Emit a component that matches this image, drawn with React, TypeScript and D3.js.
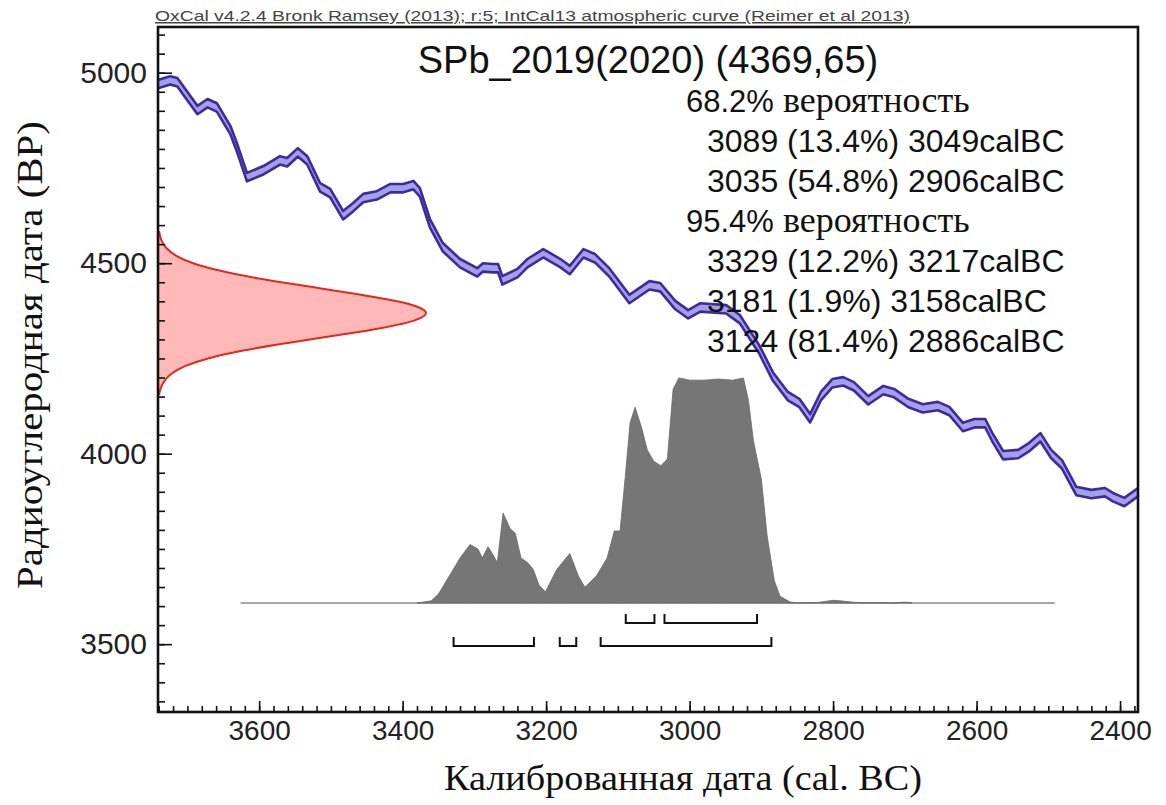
import React, { useEffect, useRef } from 'react';
import * as d3 from 'd3';

// IntCal13 curve (cal BC -> BP), centre line
const calYears = [3741, 3724, 3714, 3706, 3686, 3672, 3659, 3640, 3631, 3617, 3594, 3571, 3561, 3546, 3533, 3515, 3501, 3483, 3469, 3455, 3436, 3417, 3399, 3385, 3376, 3362, 3344, 3320, 3296, 3288, 3274, 3267, 3261, 3240, 3226, 3204, 3180, 3167, 3148, 3132, 3112, 3084, 3056, 3041, 3020, 3002, 2985, 2949, 2930, 2903, 2884, 2863, 2847, 2832, 2817, 2801, 2786, 2771, 2751, 2730, 2715, 2695, 2675, 2654, 2638, 2619, 2603, 2588, 2578, 2563, 2542, 2527, 2511, 2496, 2481, 2461, 2440, 2421, 2410, 2394, 2375];
const calBP = [4970, 4980, 4975, 4954, 4902, 4920, 4909, 4849, 4804, 4726, 4744, 4770, 4765, 4791, 4770, 4699, 4684, 4626, 4647, 4671, 4678, 4697, 4697, 4705, 4686, 4605, 4542, 4500, 4476, 4489, 4487, 4487, 4455, 4474, 4500, 4526, 4500, 4482, 4526, 4513, 4476, 4406, 4442, 4437, 4390, 4366, 4384, 4379, 4353, 4274, 4203, 4151, 4133, 4093, 4151, 4185, 4190, 4177, 4140, 4167, 4159, 4133, 4119, 4125, 4112, 4070, 4080, 4080, 4043, 3996, 3999, 4017, 4043, 3999, 3972, 3902, 3894, 3899, 3886, 3873, 3899];
const calErr = 11; // band half width, BP

// calibrated distribution (relative probability)
const histYears = [3380, 3360, 3350, 3335, 3320, 3306, 3295, 3289, 3281, 3275, 3268, 3260, 3250, 3243, 3235, 3226, 3218, 3210, 3201, 3185, 3167, 3155, 3146, 3130, 3115, 3105, 3097, 3090, 3083, 3076, 3067, 3059, 3050, 3040, 3031, 3023, 3015, 3000, 2980, 2960, 2940, 2925, 2918, 2911, 2900, 2892, 2882, 2874, 2860, 2850, 2820, 2800, 2790, 2770, 2720, 2700, 2690];
const histProb = [0, 0.01, 0.04, 0.12, 0.2, 0.26, 0.24, 0.2, 0.25, 0.22, 0.18, 0.4, 0.33, 0.31, 0.2, 0.18, 0.15, 0.08, 0.05, 0.15, 0.22, 0.12, 0.07, 0.12, 0.2, 0.32, 0.32, 0.55, 0.8, 0.87, 0.78, 0.68, 0.63, 0.61, 0.64, 0.95, 1, 0.99, 0.99, 0.995, 0.99, 1, 0.9, 0.72, 0.55, 0.3, 0.1, 0.03, 0.005, 0, 0.003, 0.012, 0.01, 0.003, 0, 0.004, 0];
const histFrom = 3626;
const histTo = 2491;

// radiocarbon measurement 4369 ± 65
const measBP = [4584, 4560, 4540, 4520, 4500, 4480, 4460, 4440, 4420, 4400, 4385, 4369, 4350, 4330, 4310, 4290, 4270, 4250, 4230, 4210, 4190, 4170, 4154];
const measDens = [0.004, 0.013, 0.031, 0.067, 0.131, 0.233, 0.375, 0.551, 0.735, 0.892, 0.97, 1, 0.958, 0.835, 0.662, 0.478, 0.313, 0.187, 0.101, 0.05, 0.023, 0.009, 0.004];

const range68 = [[3089, 3049], [3035, 2906]];
const pct68 = ['13.4', '54.8'];
const range95 = [[3329, 3217], [3181, 3158], [3124, 2886]];
const pct95 = ['12.2', '1.9', '81.4'];

const xTicks = [3600, 3400, 3200, 3000, 2800, 2600, 2400];
const yTicks = [3500, 4000, 4500, 5000];

const SANS = "'Liberation Sans', Arial, sans-serif";
const SERIF = "'Liberation Serif', 'Times New Roman', serif";

export default function App() {
  const ref = useRef<SVGSVGElement>(null);

  useEffect(() => {
    const svg = d3.select(ref.current);
    svg.selectAll('*').remove();

    const left = 158, right = 1138, top = 27, bottom = 712;
    const x = d3.scaleLinear().domain([3741, 2375]).range([left, right]);
    const y = d3.scaleLinear().domain([3322, 5120]).range([bottom, top]);
    const yProb = d3.scaleLinear().domain([0, 1]).range([y(3608), y(4199)]);
    const xDens = d3.scaleLinear().domain([0, 1]).range([left, 426]);

    svg.append('defs').append('clipPath').attr('id', 'plotclip')
      .append('rect').attr('x', left).attr('y', top)
      .attr('width', right - left).attr('height', bottom - top);

    // header
    svg.append('text')
      .attr('x', 155).attr('y', 21)
      .attr('font-family', SANS).attr('font-size', 15)
      .attr('textLength', 755).attr('lengthAdjust', 'spacingAndGlyphs')
      .attr('fill', '#444').attr('text-decoration', 'underline')
      .text('OxCal v4.2.4 Bronk Ramsey (2013); r:5; IntCal13 atmospheric curve (Reimer et al 2013)');

    const plot = svg.append('g').attr('clip-path', 'url(#plotclip)');

    // measurement distribution on the y axis
    const meas = measBP.map((bp, i) => ({ bp, d: measDens[i] }));
    plot.append('path')
      .attr('d', d3.area<any>().y((d) => y(d.bp)).x0(xDens(0)).x1((d) => xDens(d.d)).curve(d3.curveMonotoneY)(meas))
      .attr('fill', '#ffb8b8');
    plot.append('path')
      .attr('d', d3.line<any>().y((d) => y(d.bp)).x((d) => xDens(d.d)).curve(d3.curveMonotoneY)(meas))
      .attr('fill', 'none').attr('stroke', '#e2291c').attr('stroke-width', 2);

    // calibration curve
    const cal = calYears.map((yr, i) => ({ yr, bp: calBP[i] }));
    plot.append('path')
      .attr('d', d3.area<any>().x((d) => x(d.yr)).y0((d) => y(d.bp - calErr)).y1((d) => y(d.bp + calErr))(cal))
      .attr('fill', '#a59fe6');
    [calErr, -calErr].forEach((off) => {
      plot.append('path')
        .attr('d', d3.line<any>().x((d) => x(d.yr)).y((d) => y(d.bp + off))(cal))
        .attr('fill', 'none').attr('stroke', '#3b2c9e').attr('stroke-width', 2.6)
        .attr('stroke-linejoin', 'round');
    });

    // calibrated histogram
    plot.append('line')
      .attr('x1', x(histFrom)).attr('x2', x(histTo))
      .attr('y1', yProb(0)).attr('y2', yProb(0))
      .attr('stroke', '#8a8a8a').attr('stroke-width', 1.6);
    const hist = histYears.map((yr, i) => ({ yr, p: histProb[i] }));
    plot.append('path')
      .attr('d', d3.area<any>().x((d) => x(d.yr)).y0(yProb(0)).y1((d) => yProb(d.p))(hist))
      .attr('fill', '#767676').attr('stroke', '#6a6a6a').attr('stroke-width', 0.8);

    // range brackets
    const bracket = (ranges: number[][], off: number) => {
      ranges.forEach(([a, b]) => {
        const yy = yProb(0) + off;
        plot.append('path')
          .attr('d', `M${x(a)},${yy - 9}V${yy}H${x(b)}V${yy - 9}`)
          .attr('fill', 'none').attr('stroke', '#111').attr('stroke-width', 2);
      });
    };
    bracket(range68, 20);
    bracket(range95, 43);

    // axes
    const styleAxis = (g: any) => {
      g.select('.domain').remove();
      g.selectAll('line').attr('stroke', '#111').attr('stroke-width', 1.6);
      g.selectAll('text').attr('font-family', SANS).attr('fill', '#222');
    };
    svg.append('g').attr('transform', `translate(${left},0)`)
      .call(d3.axisLeft(y).tickValues(d3.range(3350, 5120, 50)).tickSize(-7).tickFormat(() => ''))
      .call(styleAxis);
    svg.append('g').attr('transform', `translate(${left},0)`)
      .call(d3.axisLeft(y).tickValues(yTicks).tickSize(-14).tickPadding(11).tickFormat(d3.format('d')))
      .call(styleAxis)
      .selectAll('text').attr('font-size', 30);
    svg.append('g').attr('transform', `translate(0,${bottom})`)
      .call(d3.axisBottom(x).tickValues(d3.range(2380, 3741, 20)).tickSize(-6).tickFormat(() => ''))
      .call(styleAxis);
    svg.append('g').attr('transform', `translate(0,${bottom})`)
      .call(d3.axisBottom(x).tickValues(xTicks).tickSize(-11).tickPadding(8).tickFormat(d3.format('d')))
      .call(styleAxis)
      .selectAll('text').attr('font-size', 28);

    // frame
    svg.append('rect')
      .attr('x', left).attr('y', top).attr('width', right - left).attr('height', bottom - top)
      .attr('fill', 'none').attr('stroke', '#111').attr('stroke-width', 2.6);

    // titles
    svg.append('text')
      .attr('x', 648).attr('y', 73).attr('text-anchor', 'middle')
      .attr('font-family', SANS).attr('font-size', 38).attr('fill', '#111')
      .text('SPb_2019(2020) (4369,65)');

    const lines: { head?: string; txt?: string }[] = [];
    lines.push({ head: '68.2%' });
    range68.forEach(([a, b], i) => lines.push({ txt: `${a} (${pct68[i]}%) ${b}calBC` }));
    lines.push({ head: '95.4%' });
    range95.forEach(([a, b], i) => lines.push({ txt: `${a} (${pct95[i]}%) ${b}calBC` }));
    lines.forEach((l, i) => {
      const by = 112 + i * 40;
      if (l.head) {
        const t = svg.append('text').attr('x', 686).attr('y', by).attr('fill', '#111');
        t.append('tspan').attr('font-family', SANS).attr('font-size', 31).text(l.head);
        t.append('tspan').attr('font-family', SERIF).attr('font-size', 36).text(' вероятность');
      } else {
        svg.append('text').attr('x', 707).attr('y', by)
          .attr('font-family', SANS).attr('font-size', 32).attr('fill', '#111')
          .text(l.txt as string);
      }
    });

    svg.append('text')
      .attr('x', 683).attr('y', 790).attr('text-anchor', 'middle')
      .attr('font-family', SERIF).attr('font-size', 36).attr('fill', '#111')
      .attr('textLength', 478).attr('lengthAdjust', 'spacingAndGlyphs')
      .text('Калиброванная дата (cal. BC)');
    svg.append('text')
      .attr('transform', 'translate(42,355) rotate(-90)').attr('text-anchor', 'middle')
      .attr('font-family', SERIF).attr('font-size', 36).attr('fill', '#111')
      .attr('textLength', 468).attr('lengthAdjust', 'spacingAndGlyphs')
      .text('Радиоуглеродная дата (BP)');
  }, []);

  return (
    <svg ref={ref} width={1166} height={805}
      style={{ position: 'absolute', left: 0, top: 0, background: '#fff' }} />
  );
}
